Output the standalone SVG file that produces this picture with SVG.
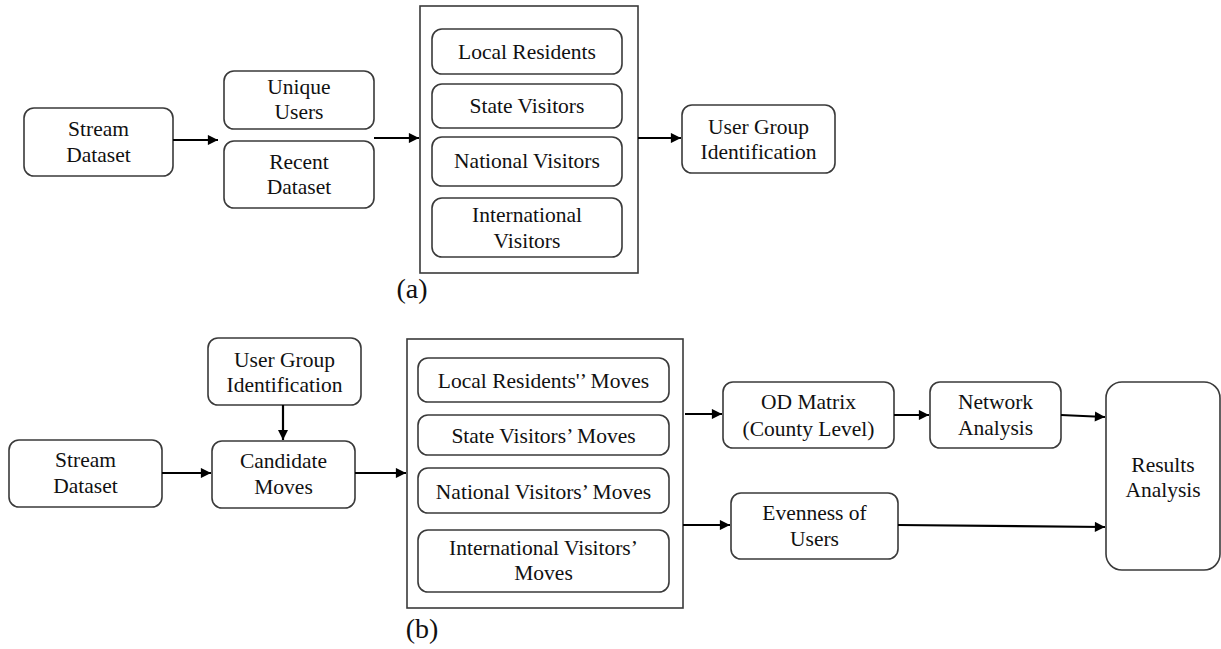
<svg xmlns="http://www.w3.org/2000/svg" width="1221" height="649" viewBox="0 0 1221 649">
<defs>
<style>
.n{fill:#fff;stroke:#3a3a3a;stroke-width:1.6}
.g{fill:none;stroke:#3a3a3a;stroke-width:1.6}
text{font-family:'Liberation Serif','Times New Roman','DejaVu Serif',serif;fill:#111;text-anchor:middle}
.t{font-size:21.5px}
.lbl{font-size:28px}
.c{stroke:#000;stroke-width:2.2;fill:none;marker-end:url(#ah)}
</style>
<marker id="ah" viewBox="0 0 10 10" refX="10" refY="5" markerWidth="5.5" markerHeight="4.6" markerUnits="strokeWidth" orient="auto">
<path d="M0,0 L10,5 L0,10 z" fill="#000"/>
</marker>
</defs>
<rect width="1221" height="649" fill="#fff"/>

<!-- (a) -->
<g id="a_stream"><rect class="n" x="24" y="108" width="149" height="68" rx="10"/><text class="t" x="98.5" y="136">Stream</text><text class="t" x="98.5" y="162">Dataset</text></g>
<g id="a_unique"><rect class="n" x="224" y="71" width="150" height="58" rx="10"/><text class="t" x="299" y="94">Unique</text><text class="t" x="299" y="119">Users</text></g>
<g id="a_recent"><rect class="n" x="224" y="141" width="150" height="67" rx="10"/><text class="t" x="299" y="169">Recent</text><text class="t" x="299" y="194">Dataset</text></g>
<g id="a_groups"><rect class="g" x="420" y="6" width="218" height="267"/></g>
<g id="a_local"><rect class="n" x="432" y="29" width="190" height="45" rx="10"/><text class="t" x="527" y="59">Local Residents</text></g>
<g id="a_state"><rect class="n" x="432" y="84" width="190" height="44" rx="10"/><text class="t" x="527" y="113">State Visitors</text></g>
<g id="a_national"><rect class="n" x="432" y="137" width="190" height="49" rx="10"/><text class="t" x="527" y="168">National Visitors</text></g>
<g id="a_intl"><rect class="n" x="432" y="198" width="190" height="59" rx="10"/><text class="t" x="527" y="222">International</text><text class="t" x="527" y="248">Visitors</text></g>
<g id="a_ugi"><rect class="n" x="682" y="105" width="153" height="68" rx="10"/><text class="t" x="758.5" y="134">User Group</text><text class="t" x="758.5" y="159">Identification</text></g>
<text class="lbl" x="412" y="298">(a)</text>

<!-- (b) -->
<g id="b_ugi"><rect class="n" x="208" y="338" width="153" height="67" rx="10"/><text class="t" x="284.5" y="367">User Group</text><text class="t" x="284.5" y="392">Identification</text></g>
<g id="b_stream"><rect class="n" x="9" y="440" width="153" height="67" rx="10"/><text class="t" x="85.5" y="467">Stream</text><text class="t" x="85.5" y="493">Dataset</text></g>
<g id="b_cand"><rect class="n" x="212" y="441" width="143" height="67" rx="10"/><text class="t" x="283.5" y="468">Candidate</text><text class="t" x="283.5" y="494">Moves</text></g>
<g id="b_groups"><rect class="g" x="407" y="339" width="276" height="269"/></g>
<g id="b_local"><rect class="n" x="418" y="358" width="251" height="44" rx="10"/><text class="t" x="543.5" y="388">Local Residents'’ Moves</text></g>
<g id="b_state"><rect class="n" x="418" y="415" width="251" height="40" rx="10"/><text class="t" x="543.5" y="443">State Visitors’ Moves</text></g>
<g id="b_national"><rect class="n" x="418" y="468" width="251" height="45" rx="10"/><text class="t" x="543.5" y="499">National Visitors’ Moves</text></g>
<g id="b_intl"><rect class="n" x="418" y="530" width="251" height="62" rx="10"/><text class="t" x="543.5" y="555">International Visitors’</text><text class="t" x="543.5" y="580">Moves</text></g>
<g id="b_od"><rect class="n" x="723" y="382" width="171" height="66" rx="10"/><text class="t" x="808.5" y="409">OD Matrix</text><text class="t" x="808.5" y="436">(County Level)</text></g>
<g id="b_net"><rect class="n" x="930" y="382" width="131" height="66" rx="10"/><text class="t" x="995.5" y="409">Network</text><text class="t" x="995.5" y="435">Analysis</text></g>
<g id="b_even"><rect class="n" x="731" y="493" width="167" height="66" rx="10"/><text class="t" x="814.5" y="520">Evenness of</text><text class="t" x="814.5" y="546">Users</text></g>
<g id="b_results"><rect class="n" x="1106" y="382" width="114" height="188" rx="16"/><text class="t" x="1163" y="472">Results</text><text class="t" x="1163" y="497">Analysis</text></g>
<text class="lbl" x="422" y="638">(b)</text>

<g id="connectors">
<line class="c" x1="173" y1="140" x2="218" y2="140"/>
<line class="c" x1="374" y1="138" x2="419" y2="138"/>
<line class="c" x1="638" y1="138" x2="681" y2="138"/>
<line class="c" x1="283" y1="405" x2="283" y2="440"/>
<line class="c" x1="162" y1="473" x2="211" y2="473"/>
<line class="c" x1="355" y1="473" x2="406" y2="473"/>
<line class="c" x1="685" y1="414" x2="722" y2="414"/>
<line class="c" x1="894" y1="415" x2="929" y2="415"/>
<line class="c" x1="1061" y1="415" x2="1105" y2="417"/>
<line class="c" x1="683" y1="525" x2="730" y2="525"/>
<line class="c" x1="898" y1="525" x2="1105" y2="527"/>
</g>
</svg>
